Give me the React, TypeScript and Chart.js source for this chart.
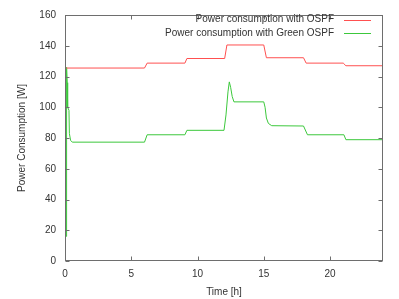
import { useEffect, useRef } from "react";
import { Chart, registerables } from "chart.js";

Chart.register(...registerables);

const seriesLabels = ["Power consumption with OSPF", "Power consumption with Green OSPF"];
const seriesColors = ["rgb(255,80,80)", "rgb(60,200,60)"];

const redTimes = [0.1, 6.0, 6.2, 9.05, 9.2, 12.05, 12.22, 15.0, 15.2, 18.0, 18.2, 21.0, 21.2, 24];
const redPower = [125.5, 125.5, 128.7, 128.7, 131.7, 131.7, 140.5, 140.5, 132.2, 132.2, 128.7, 128.7, 127, 127];

const greenTimes = [0.08, 0.12, 0.17, 0.2, 0.3, 0.33, 0.42, 0.55, 6.0, 6.2, 9.05, 9.2, 12.0, 12.15, 12.3, 12.4, 12.5, 12.62, 12.75, 15.0, 15.1, 15.2, 15.35, 15.6, 18.0, 18.3, 21.05, 21.2, 24];
const greenPower = [16, 126, 116, 100, 98, 83, 78.5, 77.3, 77.3, 82.1, 82.1, 85, 85, 95, 110, 116.5, 113, 107, 103.5, 103.5, 100, 93, 89.5, 88, 87.8, 82.1, 82.1, 78.9, 78.9];

const xTickValues = [0, 5, 10, 15, 20];
const yTickValues = [0, 20, 40, 60, 80, 100, 120, 140, 160];

const xTitle = "Time [h]";
const yTitle = "Power Consumption [W]";

const FONT = "'Liberation Sans', Arial, sans-serif";

const framePlugin = {
  id: "gnuplotFrame",
  afterDraw(chart: any) {
    const { ctx, chartArea } = chart;
    const l = Math.round(chartArea.left) + 0.5;
    const r = Math.round(chartArea.right) - 0.5;
    const t = Math.round(chartArea.top) + 0.5;
    const b = Math.round(chartArea.bottom) - 0.5;
    ctx.save();
    ctx.strokeStyle = "#6e6e6e";
    ctx.lineWidth = 1;
    ctx.strokeRect(l, t, r - l, b - t);
    const tl = 4;
    ctx.beginPath();
    const xs = chart.scales.x;
    xTickValues.forEach((v) => {
      const px = Math.round(xs.getPixelForValue(v)) + 0.5;
      ctx.moveTo(px, b);
      ctx.lineTo(px, b - tl);
      ctx.moveTo(px, t);
      ctx.lineTo(px, t + tl);
    });
    const ys = chart.scales.y;
    yTickValues.forEach((v) => {
      const py = Math.round(ys.getPixelForValue(v)) + 0.5;
      ctx.moveTo(l, py);
      ctx.lineTo(l + tl, py);
      ctx.moveTo(r, py);
      ctx.lineTo(r - tl, py);
    });
    ctx.stroke();

    // legend (gnuplot style: text right-aligned, sample line on the right)
    ctx.font = `10px ${FONT}`;
    ctx.textAlign = "right";
    ctx.textBaseline = "middle";
    chart.data.datasets.forEach((ds: any, i: number) => {
      const y = 19.5 + i * 13.3;
      ctx.fillStyle = "#333";
      ctx.fillText(ds.label, 334, y);
      ctx.strokeStyle = ds.borderColor;
      ctx.beginPath();
      ctx.moveTo(344, Math.round(y) + 0.5);
      ctx.lineTo(371, Math.round(y) + 0.5);
      ctx.stroke();
    });
    ctx.restore();
  },
};

export default function App() {
  const ref = useRef<HTMLCanvasElement>(null);
  useEffect(() => {
    document.body.style.margin = "0";
    const canvas = ref.current;
    if (!canvas) return;
    const chart = new Chart(canvas, {
      type: "scatter",
      data: {
        datasets: [
          {
            label: seriesLabels[0],
            data: redTimes.map((t, i) => ({ x: t, y: redPower[i] })),
            borderColor: seriesColors[0],
            backgroundColor: seriesColors[0],
            showLine: true,
            borderWidth: 1,
            pointRadius: 0,
            tension: 0,
          },
          {
            label: seriesLabels[1],
            data: greenTimes.map((t, i) => ({ x: t, y: greenPower[i] })),
            borderColor: seriesColors[1],
            backgroundColor: seriesColors[1],
            showLine: true,
            borderWidth: 1,
            pointRadius: 0,
            tension: 0,
          },
        ],
      },
      options: {
        animation: false,
        responsive: false,
        devicePixelRatio: 1,
        layout: { padding: { left: 16, right: 16, top: 12, bottom: 1 } },
        plugins: { legend: { display: false }, tooltip: { enabled: false } },
        scales: {
          x: {
            type: "linear",
            min: 0,
            max: 24,
            grid: { display: false, drawTicks: false },
            border: { display: false },
            afterBuildTicks: (s: any) => {
              s.ticks = xTickValues.map((v) => ({ value: v }));
            },
            afterFit: (s: any) => {
              s.height = 37;
            },
            ticks: {
              padding: 7,
              color: "#333",
              font: { family: FONT, size: 10 },
              maxRotation: 0,
            },
            title: {
              display: true,
              text: xTitle,
              color: "#333",
              font: { family: FONT, size: 10 },
              padding: 0,
            },
          },
          y: {
            type: "linear",
            min: 0,
            max: 160,
            grid: { display: false, drawTicks: false },
            border: { display: false },
            afterBuildTicks: (s: any) => {
              s.ticks = yTickValues.map((v) => ({ value: v }));
            },
            afterFit: (s: any) => {
              s.width = 49;
            },
            ticks: {
              padding: 9,
              color: "#333",
              font: { family: FONT, size: 10 },
            },
            title: {
              display: true,
              text: yTitle,
              color: "#333",
              font: { family: FONT, size: 10 },
              padding: 0,
            },
          },
        },
      },
      plugins: [framePlugin],
    });
    return () => chart.destroy();
  }, []);
  return (
    <div style={{ width: 399, height: 299 }}>
      <canvas ref={ref} width={399} height={299} style={{ display: "block" }} />
    </div>
  );
}
